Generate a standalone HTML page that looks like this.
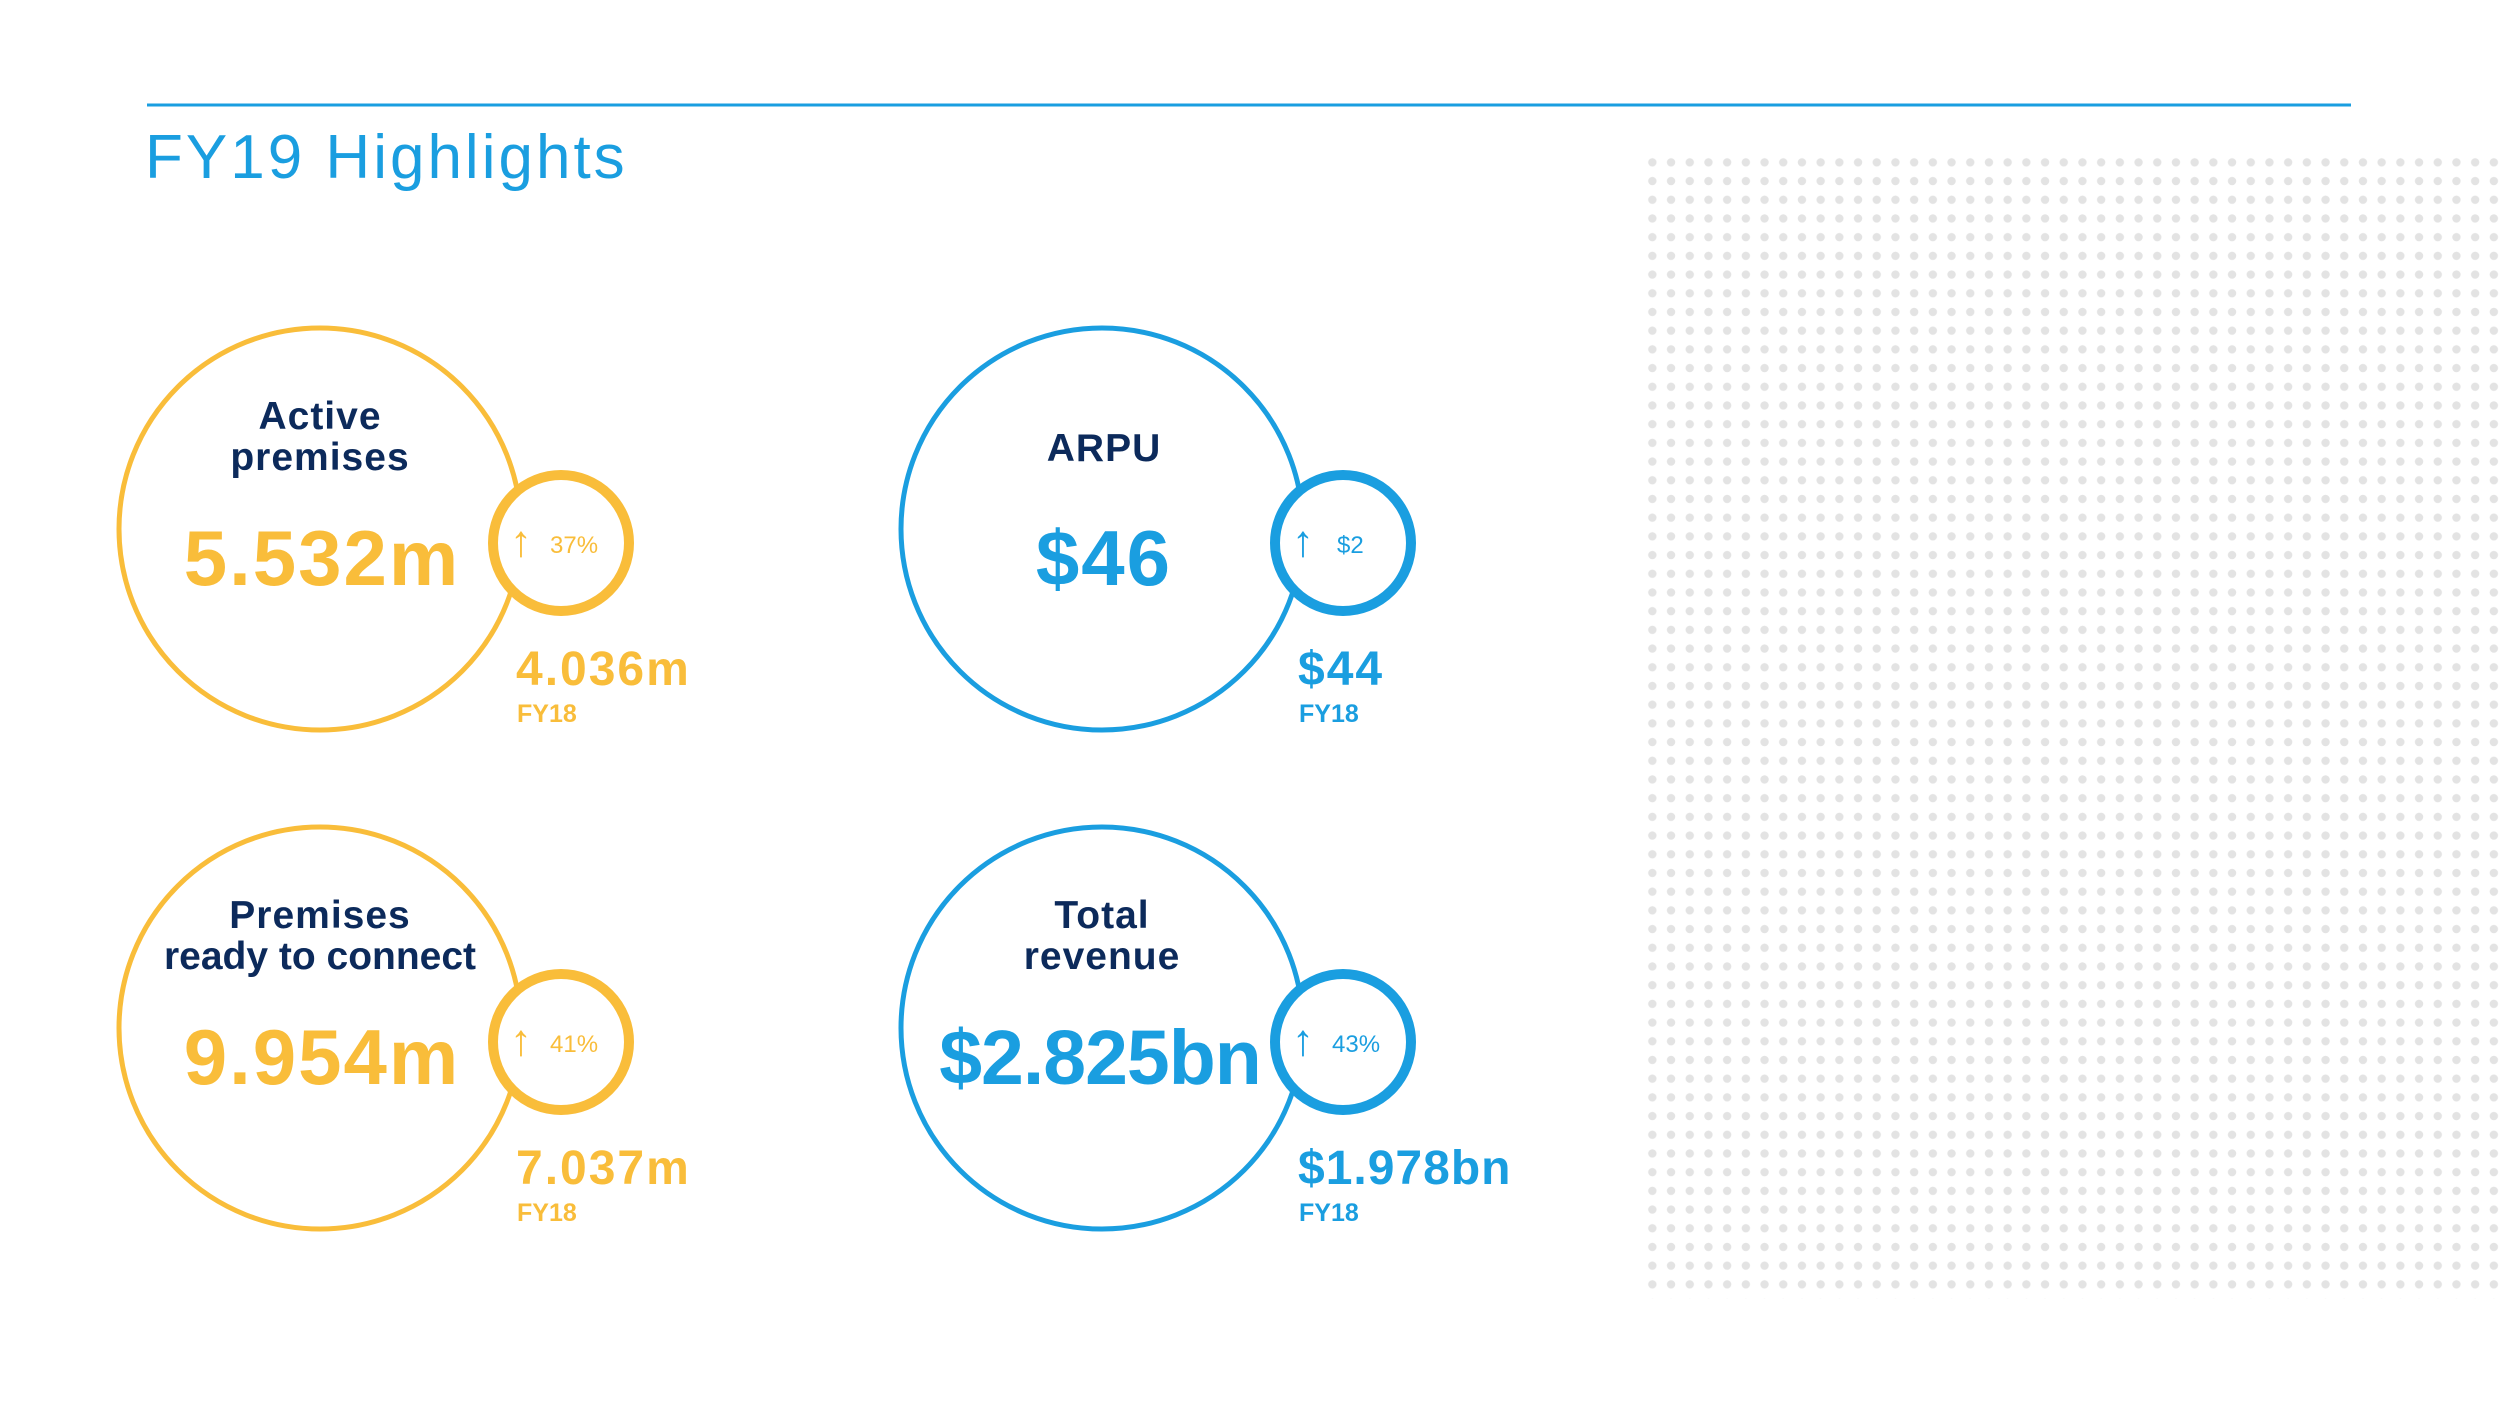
<!DOCTYPE html>
<html><head><meta charset="utf-8"><style>
html,body{margin:0;padding:0;background:#fff;}
svg{display:block;}
text{font-family:"Liberation Sans",sans-serif;}
</style></head><body>
<svg width="2500" height="1406" viewBox="0 0 2500 1406" xmlns="http://www.w3.org/2000/svg">
<defs>
<pattern id="dots" x="1643" y="153" width="18.7" height="18.7" patternUnits="userSpaceOnUse">
<circle cx="9.35" cy="9.35" r="4.2" fill="#e3e3e3"/>
</pattern>
</defs>
<rect x="1643" y="153" width="857" height="1146" fill="url(#dots)"/>
<line x1="147" y1="105" x2="2351" y2="105" stroke="#1a9ee0" stroke-width="3"/>
<text x="145" y="178" font-size="62" fill="#1a9ee0" letter-spacing="3">FY19 Highlights</text>

<!-- Active premises -->
<g>
<circle cx="320" cy="529" r="201" fill="none" stroke="#f9bd3a" stroke-width="5"/>
<circle cx="561" cy="543" r="68" fill="#fff" stroke="#f9bd3a" stroke-width="10"/>
<text x="320" y="429" font-size="39" fill="#0c2a5b" text-anchor="middle" font-weight="bold" letter-spacing="1">Active</text>
<text x="320" y="470" font-size="39" fill="#0c2a5b" text-anchor="middle" font-weight="bold" letter-spacing="1">premises</text>
<text x="322" y="585" font-size="78" fill="#f9bd3a" text-anchor="middle" font-weight="bold" letter-spacing="2">5.532m</text>
<text x="510" y="556" font-size="44" fill="#f9bd3a">↑</text>
<text x="550" y="553" font-size="24" fill="#f9bd3a">37%</text>
<text x="516" y="685" font-size="48" fill="#f9bd3a" font-weight="bold" letter-spacing="2">4.036m</text>
<text x="517" y="722" font-size="25" fill="#f9bd3a" font-weight="bold">FY18</text>
</g>

<!-- ARPU -->
<g>
<circle cx="1102" cy="529" r="201" fill="none" stroke="#1a9ee0" stroke-width="5"/>
<circle cx="1343" cy="543" r="68" fill="#fff" stroke="#1a9ee0" stroke-width="10"/>
<text x="1104" y="461" font-size="39" fill="#0c2a5b" text-anchor="middle" font-weight="bold" letter-spacing="1">ARPU</text>
<text x="1104" y="585" font-size="78" fill="#1a9ee0" text-anchor="middle" font-weight="bold" letter-spacing="2">$46</text>
<text x="1292" y="556" font-size="44" fill="#1a9ee0">↑</text>
<text x="1337" y="553" font-size="24" fill="#1a9ee0">$2</text>
<text x="1298" y="685" font-size="48" fill="#1a9ee0" font-weight="bold" letter-spacing="2">$44</text>
<text x="1299" y="722" font-size="25" fill="#1a9ee0" font-weight="bold">FY18</text>
</g>

<!-- Premises ready to connect -->
<g>
<circle cx="320" cy="1028" r="201" fill="none" stroke="#f9bd3a" stroke-width="5"/>
<circle cx="561" cy="1042" r="68" fill="#fff" stroke="#f9bd3a" stroke-width="10"/>
<text x="320" y="928" font-size="39" fill="#0c2a5b" text-anchor="middle" font-weight="bold" letter-spacing="1">Premises</text>
<text x="320" y="969" font-size="39" fill="#0c2a5b" text-anchor="middle" font-weight="bold">ready to connect</text>
<text x="322" y="1084" font-size="78" fill="#f9bd3a" text-anchor="middle" font-weight="bold" letter-spacing="2">9.954m</text>
<text x="510" y="1055" font-size="44" fill="#f9bd3a">↑</text>
<text x="550" y="1052" font-size="24" fill="#f9bd3a">41%</text>
<text x="516" y="1184" font-size="48" fill="#f9bd3a" font-weight="bold" letter-spacing="2">7.037m</text>
<text x="517" y="1221" font-size="25" fill="#f9bd3a" font-weight="bold">FY18</text>
</g>

<!-- Total revenue -->
<g>
<circle cx="1102" cy="1028" r="201" fill="none" stroke="#1a9ee0" stroke-width="5"/>
<circle cx="1343" cy="1042" r="68" fill="#fff" stroke="#1a9ee0" stroke-width="10"/>
<text x="1102" y="928" font-size="39" fill="#0c2a5b" text-anchor="middle" font-weight="bold" letter-spacing="1">Total</text>
<text x="1102" y="969" font-size="39" fill="#0c2a5b" text-anchor="middle" font-weight="bold" letter-spacing="1">revenue</text>
<text x="1100" y="1084" font-size="77" fill="#1a9ee0" text-anchor="middle" font-weight="bold" letter-spacing="-1">$2.825bn</text>
<text x="1292" y="1055" font-size="44" fill="#1a9ee0">↑</text>
<text x="1332" y="1052" font-size="24" fill="#1a9ee0">43%</text>
<text x="1298" y="1184" font-size="48" fill="#1a9ee0" font-weight="bold" letter-spacing="1">$1.978bn</text>
<text x="1299" y="1221" font-size="25" fill="#1a9ee0" font-weight="bold">FY18</text>
</g>
</svg>
</body></html>
